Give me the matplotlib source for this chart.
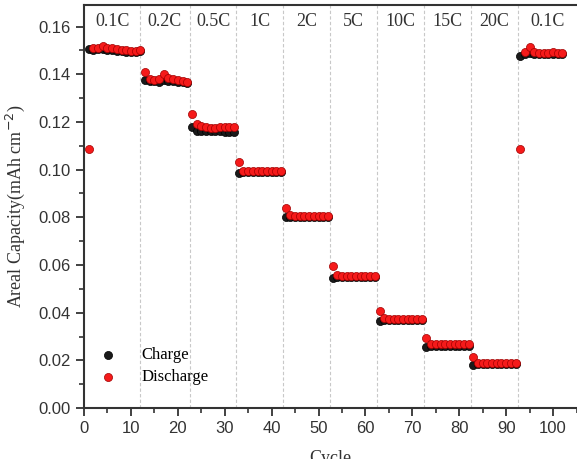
import numpy as np
import matplotlib.pyplot as plt
from matplotlib.ticker import MultipleLocator

# rate steps and where each one ends (cycle number)
rates = ["0.1C", "0.2C", "0.5C", "1C", "2C", "5C", "10C", "15C", "20C", "0.1C"]
bounds = [0, 12, 22.5, 32.5, 42.5, 52.5, 62.5, 72.5, 82.5, 92.5, 105]

cycles = list(range(1, 103))

charge = [0.1505, 0.1503, 0.1505, 0.1505, 0.1502, 0.1500, 0.1498, 0.1496, 0.1495, 0.1494, 0.1494, 0.1496,
          0.1375, 0.1372, 0.1370, 0.1368, 0.1375, 0.1372, 0.1370, 0.1368, 0.1366, 0.1364,
          0.1177, 0.1163, 0.1162, 0.1162, 0.1160, 0.1160, 0.1160, 0.1158, 0.1158, 0.1158,
          0.0984, 0.0990, 0.0990, 0.0990, 0.0990, 0.0990, 0.0990, 0.0990, 0.0990, 0.0990,
          0.0800, 0.0802, 0.0801, 0.0800, 0.0800, 0.0800, 0.0800, 0.0800, 0.0800, 0.0800,
          0.0547, 0.0550, 0.0550, 0.0550, 0.0550, 0.0550, 0.0550, 0.0550, 0.0550, 0.0550,
          0.0365, 0.0370, 0.0370, 0.0370, 0.0370, 0.0370, 0.0370, 0.0370, 0.0370, 0.0370,
          0.0258, 0.0262, 0.0262, 0.0262, 0.0262, 0.0262, 0.0262, 0.0262, 0.0262, 0.0262,
          0.0179, 0.0183, 0.0183, 0.0183, 0.0183, 0.0183, 0.0183, 0.0183, 0.0183, 0.0183,
          0.1478, 0.1485, 0.1490, 0.1485, 0.1483, 0.1483, 0.1483, 0.1483, 0.1483, 0.1483]

discharge = [0.1088, 0.1508, 0.1510, 0.1518, 0.1510, 0.1508, 0.1505, 0.1503, 0.1500, 0.1498, 0.1498, 0.1503,
             0.1408, 0.1380, 0.1376, 0.1378, 0.1399, 0.1382, 0.1378, 0.1376, 0.1372, 0.1368,
             0.1233, 0.1190, 0.1182, 0.1178, 0.1176, 0.1175, 0.1178, 0.1180, 0.1180, 0.1180,
             0.1032, 0.0995, 0.0994, 0.0993, 0.0993, 0.0993, 0.0993, 0.0993, 0.0993, 0.0993,
             0.0839, 0.0808, 0.0806, 0.0805, 0.0805, 0.0805, 0.0805, 0.0805, 0.0805, 0.0805,
             0.0596, 0.0556, 0.0555, 0.0554, 0.0554, 0.0554, 0.0554, 0.0554, 0.0554, 0.0554,
             0.0407, 0.0376, 0.0375, 0.0375, 0.0375, 0.0375, 0.0375, 0.0375, 0.0375, 0.0375,
             0.0292, 0.0268, 0.0267, 0.0267, 0.0267, 0.0267, 0.0267, 0.0267, 0.0267, 0.0267,
             0.0216, 0.0189, 0.0188, 0.0188, 0.0188, 0.0188, 0.0188, 0.0188, 0.0188, 0.0188,
             0.1088, 0.1492, 0.1513, 0.1495, 0.1490, 0.1490, 0.1490, 0.1492, 0.1490, 0.1488]

plt.rcParams['font.family'] = ['Liberation Sans', 'DejaVu Sans']

fig = plt.figure(figsize=(5.77, 4.59), dpi=100)
ax = fig.add_axes([0.1456, 0.111, 0.8544, 0.878])

for b in bounds[1:-1]:
    ax.axvline(b, color='#c8c8c8', lw=0.8, ls=(0, (3, 2)), zorder=0)

ax.scatter(cycles, charge, s=34, color='#1a1a1a', edgecolor='#000000', lw=0.5, label='Charge', zorder=2)
ax.scatter(cycles, discharge, s=34, color='#f51a1a', edgecolor='#a00000', lw=0.5, label='Discharge', zorder=3)

for i, r in enumerate(rates):
    ax.text((bounds[i] + bounds[i + 1]) / 2, 0.1619, r, ha='center', va='center',
            family='Liberation Serif', fontsize=13, color='#333333')

ax.set_xlim(0, 105.1)
ax.set_ylim(0, 0.169)
ax.xaxis.set_major_locator(MultipleLocator(10))
ax.xaxis.set_minor_locator(MultipleLocator(5))
ax.yaxis.set_major_locator(MultipleLocator(0.02))
ax.yaxis.set_minor_locator(MultipleLocator(0.01))
ax.yaxis.set_major_formatter(plt.FormatStrFormatter('%.2f'))
ax.tick_params(which='major', direction='out', length=6, width=1.3, labelsize=12, colors='#333333')
ax.tick_params(which='minor', direction='out', length=3.5, width=1.2, colors='#333333')
for sp in ax.spines.values():
    sp.set_linewidth(1.5)
    sp.set_color('#333333')
ax.spines['right'].set_visible(False)

ax.set_ylabel('Areal Capacity(mAh cm$^{-2}$)', family='Liberation Serif', fontsize=13, color='#333333', labelpad=8)
ax.set_xlabel('Cycle', family='Liberation Serif', fontsize=13, color='#333333', labelpad=10)

ax.legend(loc='lower left', bbox_to_anchor=(-0.015, 0.02), frameon=False, handletextpad=1.0,
          labelspacing=0.35, prop={'family': 'Liberation Serif', 'size': 12})

fig.savefig('out.png', dpi=100)
